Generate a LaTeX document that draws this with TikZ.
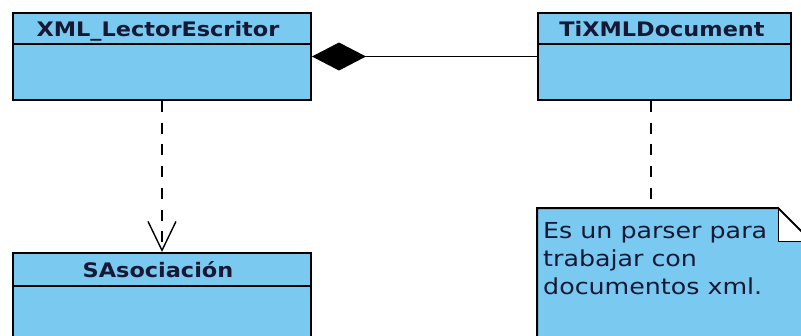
\documentclass[tikz,border=0pt]{standalone}
\usepackage{fontspec}
\usetikzlibrary{arrows.meta,calc}
\newfontfamily\umlfont[FakeStretch=1.12]{DejaVu Sans}
\newfontfamily\notefont[FakeStretch=1.15]{DejaVu Sans}
\definecolor{umlfill}{RGB}{122,201,241}
\definecolor{umltext}{RGB}{22,24,52}
\tikzset{
  classbox/.style={draw=black, line width=2pt, fill=umlfill, inner sep=0pt, anchor=north west},
  classname/.style={font=\umlfont\bfseries\fontsize{20}{22}\selectfont, text=umltext, inner sep=0pt, anchor=base},
  divider/.style={line width=2pt},
  notetext/.style={font=\notefont\fontsize{22}{28}\selectfont, text=umltext, align=left, inner sep=0pt, anchor=north west},
  composition/.style={line width=1.2pt, {Diamond[length=54pt,width=28pt]}-},
  dependency/.style={line width=1.6pt, dash pattern=on 11pt off 10.7pt,
    -{Straight Barb[length=29pt,width=28pt,line width=1.4pt]}},
  anchorline/.style={line width=1.6pt, dash pattern=on 11pt off 10.7pt},
}
\begin{document}
\begin{tikzpicture}[x=1pt,y=-1pt]
  \useasboundingbox (0,0) rectangle (801,335);

  % class XML_LectorEscritor
  \node[classbox, minimum width=298pt, minimum height=87pt] (lector) at (12,12) {};
  \draw[divider] (12,43.5) -- (310,43.5);
  \node[classname] (lectorname) at (158,36) {XML\_LectorEscritor};

  % class TiXMLDocument
  \node[classbox, minimum width=253pt, minimum height=87pt] (doc) at (537,12) {};
  \draw[divider] (537,43.5) -- (790,43.5);
  \node[classname] (docname) at (662,36) {TiXMLDocument};

  % class SAsociación (continues below the frame)
  \node[classbox, minimum width=298pt, minimum height=110pt] (asoc) at (12,252) {};
  \draw[divider] (12,285.5) -- (310,285.5);
  \node[classname] (asocname) at (158,277) {SAsociación};

  % note with folded corner
  \filldraw[fill=umlfill, draw=black, line width=2pt]
    (537,350) -- (537,208) -- (778,208) -- (811,241) -- (811,350);
  \fill[white] (778,209) -- (810,241) -- (778,241) -- cycle;
  \draw[line width=1pt] (778,208) -- (778,241) -- (811,241);
  \draw[line width=1.6pt] (778,208) -- (811,241);
  \coordinate (notetop) at (651,208);
  \node[notetext] (note) at (543,222) {Es un parser para\\trabajar con\\documentos xml.};

  % connectors
  \draw[composition] (lector.east) -- (doc.west);
  \draw[dependency] (lector.south) -- (asoc.north);
  \draw[anchorline] (doc.south -| notetop) -- (notetop);
\end{tikzpicture}
\end{document}
